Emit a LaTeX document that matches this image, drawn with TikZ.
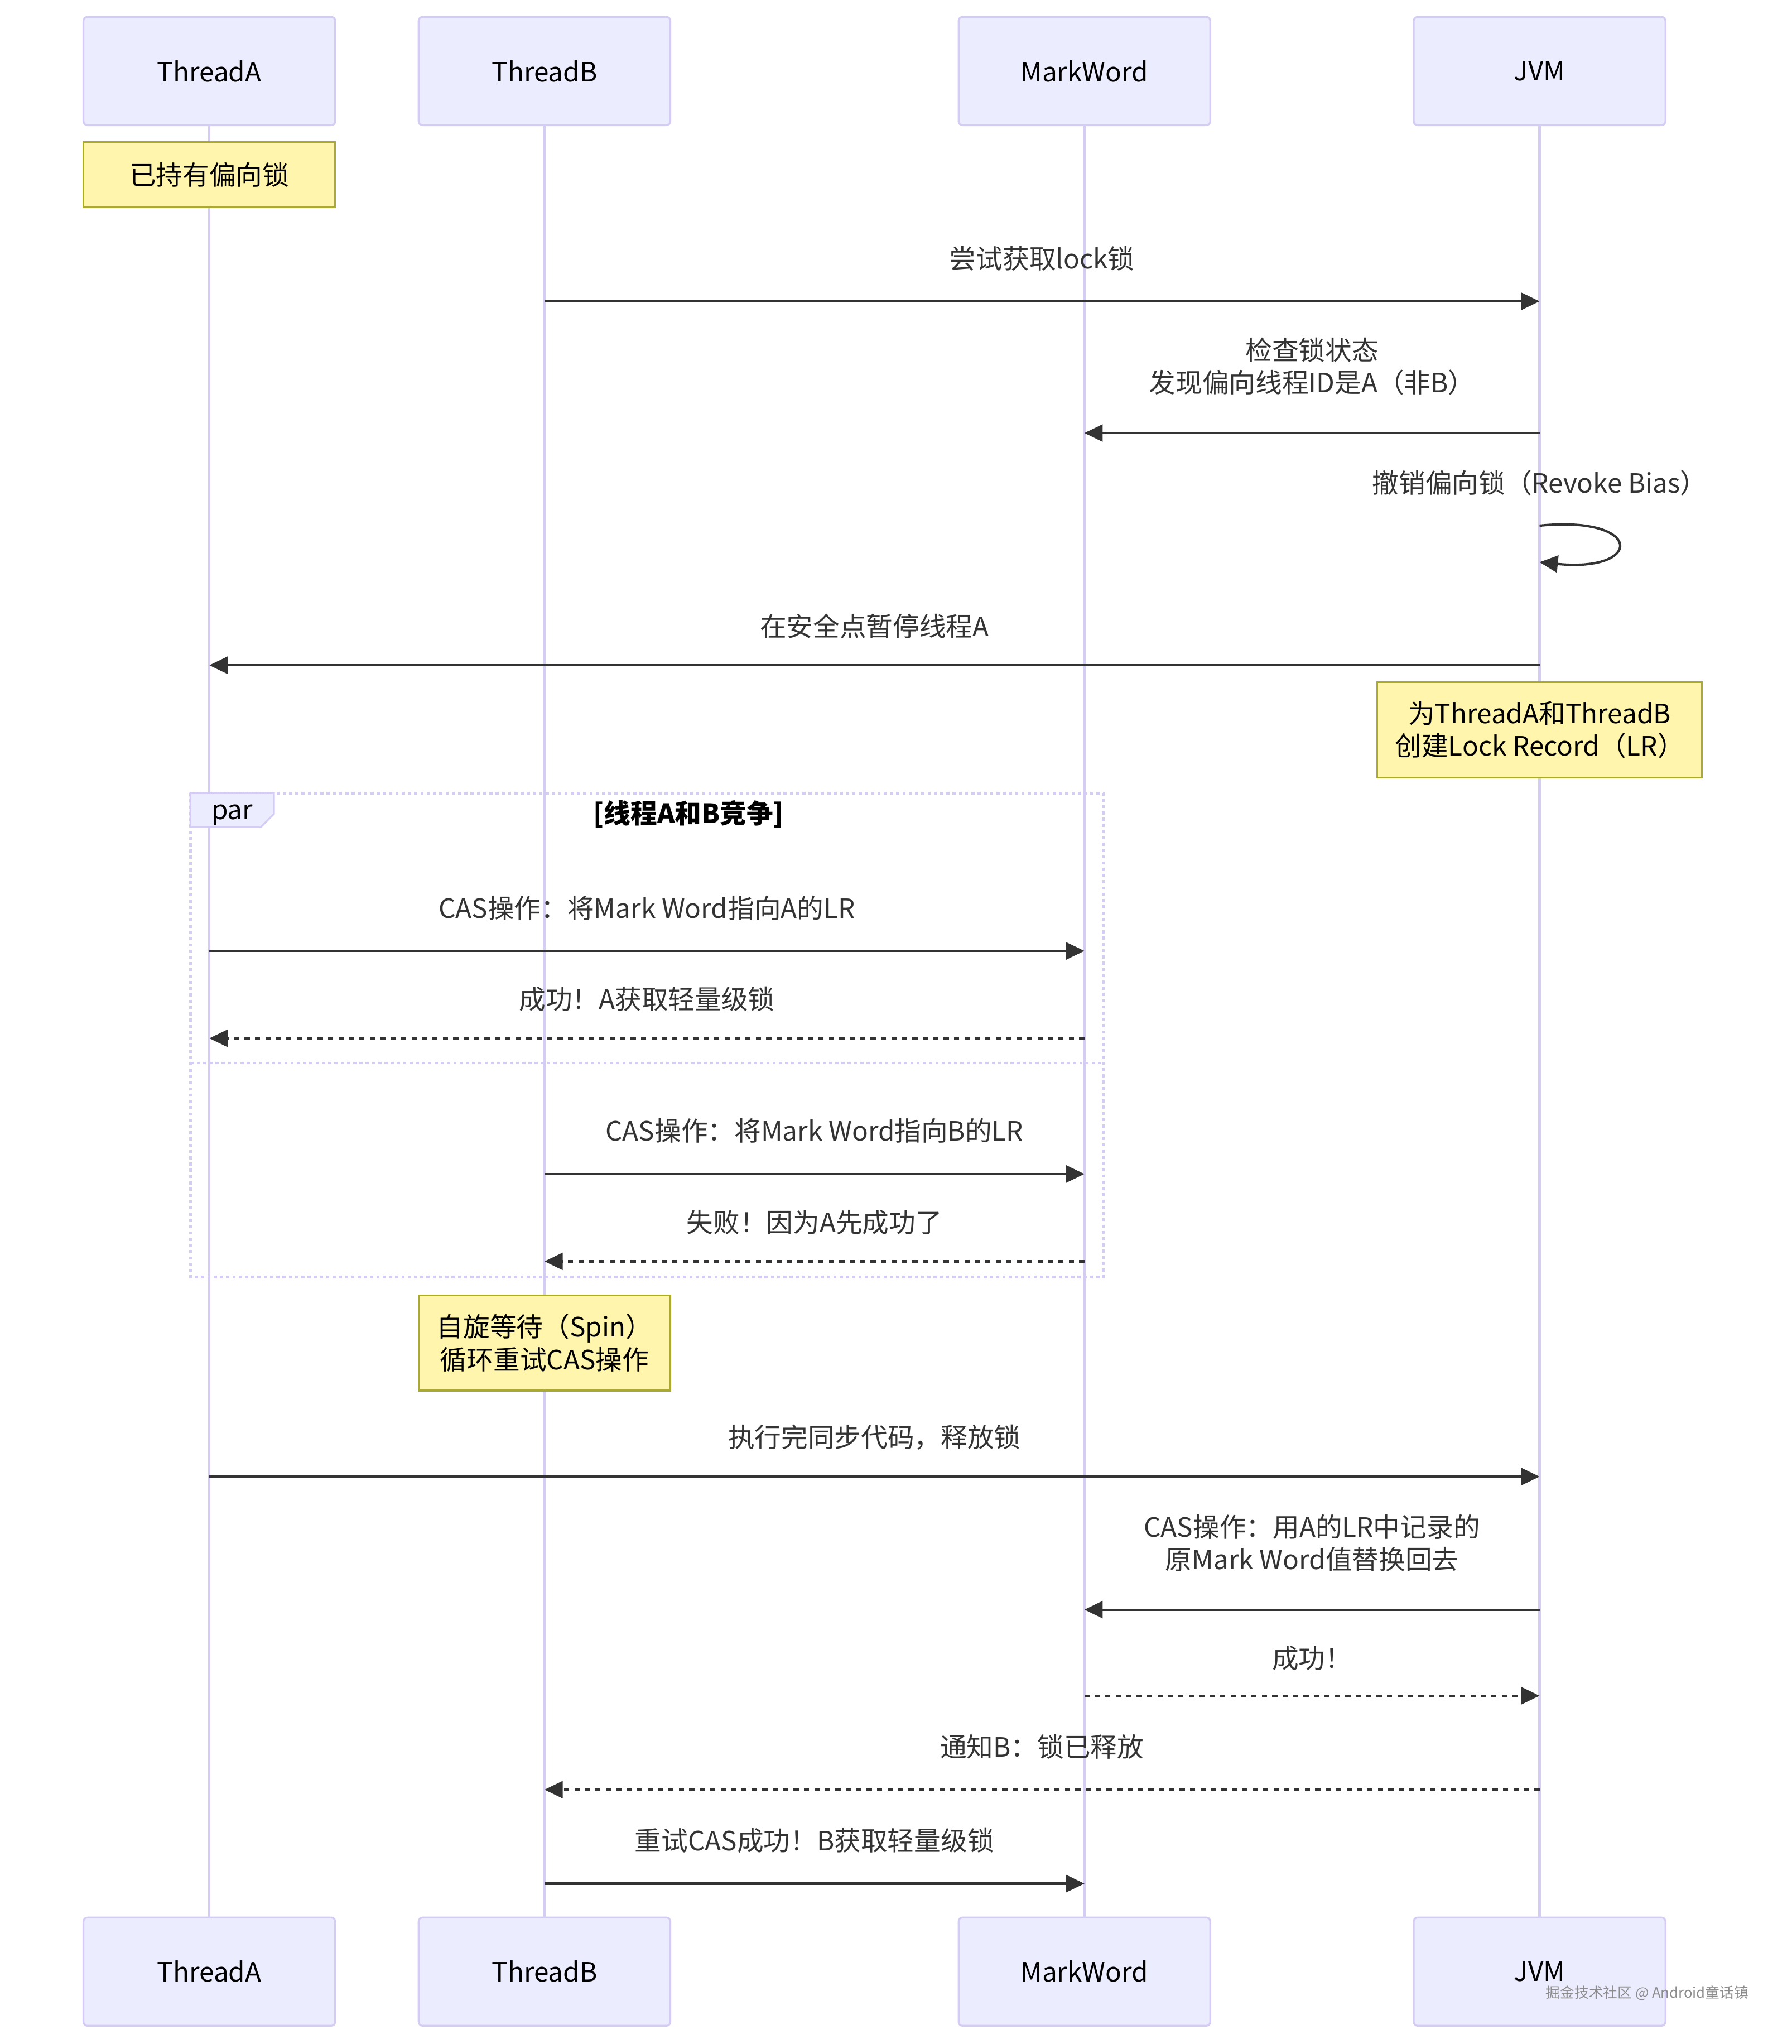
\documentclass[tikz,border=0pt]{standalone}
\usepackage{fontspec}
\setmainfont{Noto Sans CJK SC}
\usepackage{xcolor}
\usetikzlibrary{arrows.meta, positioning}

\definecolor{actorfill}{HTML}{ECECFF}
\definecolor{actorline}{HTML}{D4CCF4}
\definecolor{notefill}{HTML}{FFF5AD}
\definecolor{noteline}{HTML}{AAAA33}
\definecolor{signal}{HTML}{333333}

\newcommand{\diagfont}{\fontsize{10.2pt}{12.5pt}\selectfont}

\tikzstyle{actor} = [rectangle, rounded corners=1.5pt, minimum width=96.5pt, minimum height=41.5pt, outer sep=0pt, draw=actorline, fill=actorfill, line width=0.7pt, text=black, font=\diagfont]
\tikzstyle{note} = [rectangle, minimum width=96.5pt, outer sep=0pt, draw=noteline, fill=notefill, line width=0.7pt, align=center, text=black, font=\diagfont]
\tikzstyle{lifeline} = [draw=actorline, line width=0.9pt]
\tikzstyle{msgtext} = [text=signal, align=center, inner sep=0pt, font=\diagfont]
\tikzstyle{arrow} = [draw=signal, line width=0.9pt, -{Triangle[length=7pt, width=6.5pt]}]
\tikzstyle{dotarrow} = [arrow, dash pattern=on 2pt off 2pt]
\tikzstyle{parframe} = [draw=actorline, line width=1pt, dash pattern=on 1.2pt off 1.2pt]

\begin{document}
\begin{tikzpicture}[x=0.5pt, y=-0.5pt]

\useasboundingbox [fill=white] (0,0) rectangle (1374,1567);

% Actors
\node (thread-a) [actor] at (160.5,54.5) {ThreadA};
\node (thread-b) [actor, right=32pt of thread-a] {ThreadB};
\node (markword) [actor, right=110.5pt of thread-b] {MarkWord};
\node (jvm) [actor, right=78pt of markword] {JVM};

\node (thread-a-end) [actor, below=687pt of thread-a] {ThreadA};
\node (thread-b-end) [actor, below=687pt of thread-b] {ThreadB};
\node (markword-end) [actor, below=687pt of markword] {MarkWord};
\node (jvm-end) [actor, below=687pt of jvm] {JVM};

% Lifelines
\draw [lifeline] (thread-a.south) -- (thread-a-end.north);
\draw [lifeline] (thread-b.south) -- (thread-b-end.north);
\draw [lifeline] (markword.south) -- (markword-end.north);
\draw [lifeline] (jvm.south) -- (jvm-end.north);

% Message rows
\coordinate (row-1) at (0,231);
\coordinate (row-2) at (0,332);
\coordinate (row-3) at (0,403);
\coordinate (row-3b) at (0,431);
\coordinate (row-4) at (0,510);
\coordinate (row-5) at (0,729);
\coordinate (row-6) at (0,796);
\coordinate (row-7) at (0,900);
\coordinate (row-8) at (0,967);
\coordinate (row-9) at (0,1132);
\coordinate (row-10) at (0,1234);
\coordinate (row-11) at (0,1300);
\coordinate (row-12) at (0,1372);
\coordinate (row-13) at (0,1444);

% Notes
\node (biased-note) [note, below=6.5pt of thread-a, minimum height=25pt] {已持有偏向锁};
\node (record-note) [note, minimum width=124.5pt, minimum height=36.5pt] at (1180.5,559.5) {为ThreadA和ThreadB\\创建Lock Record（LR）};
\node (spin-note) [note, minimum height=36.5pt] at (417.5,1029.5) {自旋等待（Spin）\\循环重试CAS操作};

% Par block
\coordinate (par-top-left) at (146,608);
\coordinate (par-bottom-right) at (846,979);
\coordinate (par-split) at (0,815);
\draw [parframe] (par-top-left) rectangle (par-bottom-right);
\draw [parframe] (par-top-left |- par-split) -- (par-bottom-right |- par-split);
\draw [draw=actorline, fill=actorfill, line width=0.7pt] (146,608) -- (210,608) -- (210,624) -- (200,634) -- (146,634) -- cycle;
\node (par-label) [msgtext, text=black] at (178,625) {par};
\node (par-title) [msgtext, text=black, font=\diagfont\bfseries] at (528,624) {[线程A和B竞争]};

% Arrows
\draw [arrow] (thread-b |- row-1) -- node[msgtext, yshift=16.5pt] {尝试获取lock锁} (jvm |- row-1);
\draw [arrow] (jvm |- row-2) -- node[msgtext, yshift=25.5pt] {检查锁状态\\发现偏向线程ID是A（非B）} (markword |- row-2);
\draw [arrow] (jvm |- row-3) .. controls +(80,-8) and +(80,8) .. (jvm |- row-3b);
\node (revoke-text) [msgtext, yshift=16.5pt] at (jvm |- row-3) {撤销偏向锁（Revoke Bias）};
\draw [arrow] (jvm |- row-4) -- node[msgtext, yshift=15pt] {在安全点暂停线程A} (thread-a |- row-4);
\draw [arrow] (thread-a |- row-5) -- node[msgtext, yshift=16.5pt] {CAS操作：将Mark Word指向A的LR} (markword |- row-5);
\draw [dotarrow] (markword |- row-6) -- node[msgtext, yshift=15pt] {成功！A获取轻量级锁} (thread-a |- row-6);
\draw [arrow] (thread-b |- row-7) -- node[msgtext, yshift=16.5pt] {CAS操作：将Mark Word指向B的LR} (markword |- row-7);
\draw [dotarrow] (markword |- row-8) -- node[msgtext, yshift=15pt] {失败！因为A先成功了} (thread-b |- row-8);
\draw [arrow] (thread-a |- row-9) -- node[msgtext, yshift=15pt] {执行完同步代码，释放锁} (jvm |- row-9);
\draw [arrow] (jvm |- row-10) -- node[msgtext, yshift=25.5pt] {CAS操作：用A的LR中记录的\\原Mark Word值替换回去} (markword |- row-10);
\draw [dotarrow] (markword |- row-11) -- node[msgtext, yshift=14.5pt] {成功！} (jvm |- row-11);
\draw [dotarrow] (jvm |- row-12) -- node[msgtext, yshift=16.5pt] {通知B：锁已释放} (thread-b |- row-12);
\draw [arrow] (thread-b |- row-13) -- node[msgtext, yshift=16.5pt] {重试CAS成功！B获取轻量级锁} (markword |- row-13);

% Watermark
\node (watermark) [anchor=east, inner sep=0pt, text=black!45, font=\fontsize{5.5pt}{6pt}\selectfont] at (1341,1528) {掘金技术社区 @ Android童话镇};

\end{tikzpicture}
\end{document}
